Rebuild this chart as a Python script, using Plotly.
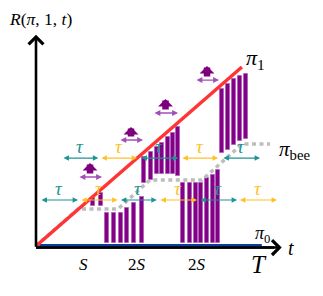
import plotly.graph_objects as go

# ---------------- data (t and R in units of one period tau) ----------------
pi1_t = [0.0, 5.28]
pi1_r = [0.0, 4.59]
pi0_t = [0.0, 5.79]
pi0_r = [0.0, 0.0]

bee_t = [0.0, 1.077, 2.103, 2.92, 4.256, 5.282, 6.0]
bee_r = [0.0, 0.949, 0.949, 1.692, 1.692, 2.615, 2.615]

bar_t = [1.462, 1.667,
         1.821, 2.0, 2.179, 2.333, 2.513, 2.718,
         2.769, 2.949, 3.103, 3.231, 3.385, 3.513, 3.641,
         3.769, 3.949, 4.103, 4.231, 4.385, 4.538, 4.667,
         4.769, 4.923, 5.077, 5.231, 5.385]
bar_top = [1.231, 1.359,
           0.846, 0.846, 0.846, 0.974, 1.103, 1.256,
           2.282, 2.410, 2.538, 2.641, 2.795, 2.897, 3.051,
           1.615, 1.615, 1.615, 1.615, 1.744, 1.821, 1.949,
           4.026, 4.154, 4.282, 4.359, 4.410]
bar_bottom = [1.026, 1.026,
              0.077, 0.077, 0.077, 0.077, 0.077, 0.077,
              1.615, 1.692, 1.846, 1.846, 1.846, 1.846, 1.795,
              0.077, 0.077, 0.077, 0.077, 0.077, 0.077, 0.077,
              2.385, 2.462, 2.590, 2.692, 2.744]

row1_r = 1.18
row1_start = [0.103, 1.128, 2.141, 3.154, 4.179, 5.192]
row1_end = [1.077, 2.090, 3.095, 4.128, 5.154, 6.179]
row1_kind = ["a", "b", "a", "b", "a", "b"]

row2_r = 2.256
row2_start = [0.667, 1.641, 2.667, 3.718, 4.769]
row2_end = [1.597, 2.590, 3.649, 4.667, 5.744]
row2_kind = ["a", "b", "a", "b", "a"]

boost_start = [1.077, 2.128, 3.0, 4.077]
boost_end = [1.692, 2.744, 3.641, 4.692]
boost_r = [1.769, 2.718, 3.41, 4.256]
up_tail = [1.82, 2.77, 3.46, 4.31]
up_tip = [2.128, 3.051, 3.769, 4.615]

tick_t = [1.23, 2.59, 4.12, 5.72]
tick_text = ["<i>S</i>", "2<i>S</i>", "2<i>S</i>", "<i>T</i>"]

# ---------------- styles ----------------
TEAL = "#1f9393"
GOLD = "#ffc128"
PURPLE = "#840084"
LPURPLE = "#a24fb8"
RED = "#ff3535"
BLUE = "#0b3d99"
GRAY = "#bdbdbd"
SERIF = "Liberation Serif, DejaVu Serif, serif"
kind_color = {"a": TEAL, "b": GOLD}

fig = go.Figure()

# black x axis line (under blue)
fig.add_trace(go.Scatter(x=[0, 6.1], y=[-0.04, -0.04], mode="lines",
                         line=dict(color="black", width=2.5), hoverinfo="skip"))
# pi_0
fig.add_trace(go.Scatter(x=pi0_t, y=pi0_r, mode="lines",
                         line=dict(color=BLUE, width=4), hoverinfo="skip"))
# bars
fig.add_trace(go.Bar(x=bar_t, y=[t - b for t, b in zip(bar_top, bar_bottom)],
                     base=bar_bottom, width=0.11,
                     marker=dict(color=PURPLE, line=dict(color="rgba(170,90,190,0.7)", width=1)),
                     hoverinfo="skip"))
# pi_bee
fig.add_trace(go.Scatter(x=bee_t, y=bee_r, mode="lines",
                         line=dict(color=GRAY, width=3.5, dash="4px,3.5px"), hoverinfo="skip"))
# pi_1
fig.add_trace(go.Scatter(x=pi1_t, y=pi1_r, mode="lines",
                         line=dict(color=RED, width=3.5), hoverinfo="skip"))

ann = []
# axes arrows
ann.append(dict(x=0, y=5.42, ax=0, ay=-0.06, xref="x", yref="y", axref="x", ayref="y",
                text="", showarrow=True, arrowhead=4, arrowwidth=2.6, arrowsize=1.1,
                arrowcolor="black"))
ann.append(dict(x=6.3, y=-0.04, ax=-0.04, ay=-0.04, xref="x", yref="y", axref="x", ayref="y",
                text="", showarrow=True, arrowhead=4, arrowwidth=2.6, arrowsize=1.1,
                arrowcolor="black"))


def tau_row(starts, ends, kinds, r):
    for s, e, k in zip(starts, ends, kinds):
        c = kind_color[k]
        ann.append(dict(x=e, y=r, ax=s, ay=r, xref="x", yref="y", axref="x", ayref="y",
                        text="", showarrow=True, arrowhead=2, arrowside="end+start",
                        arrowwidth=1.2, arrowsize=0.9, arrowcolor=c))
        ann.append(dict(x=(s + e) / 2, y=r + 0.3, xref="x", yref="y", text="<i>τ</i>",
                        showarrow=False, font=dict(family=SERIF, size=19, color=c)))


tau_row(row1_start, row1_end, row1_kind, row1_r)
tau_row(row2_start, row2_end, row2_kind, row2_r)

for s, e, r, a, b in zip(boost_start, boost_end, boost_r, up_tail, up_tip):
    ann.append(dict(x=e, y=r, ax=s, ay=r, xref="x", yref="y", axref="x", ayref="y",
                    text="", showarrow=True, arrowhead=2, arrowside="end+start",
                    arrowwidth=1.3, arrowsize=0.9, arrowcolor=LPURPLE))
    m = (s + e) / 2
    ann.append(dict(x=m, y=b, ax=m, ay=a, xref="x", yref="y", axref="x", ayref="y",
                    text="", showarrow=True, arrowhead=1, arrowwidth=6.5, arrowsize=0.38,
                    arrowcolor="#7d007d"))

# labels
ann.append(dict(x=0.11, y=5.82, xref="x", yref="y", text="<i>R</i>(<i>π</i>, 1, <i>t</i>)",
                showarrow=False, font=dict(family=SERIF, size=17.5, color="black")))
ann.append(dict(x=5.64, y=4.8, xref="x", yref="y", text="<i>π</i><sub>1</sub>",
                showarrow=False, font=dict(family=SERIF, size=22, color="black")))
ann.append(dict(x=6.63, y=2.45, xref="x", yref="y", text="<i>π</i><sub>bee</sub>",
                showarrow=False, font=dict(family=SERIF, size=21, color="black")))
ann.append(dict(x=5.8, y=0.3, xref="x", yref="y", text="<i>π</i><sub>0</sub>",
                showarrow=False, font=dict(family=SERIF, size=18, color="black")))
ann.append(dict(x=6.54, y=-0.05, xref="x", yref="y", text="<i>t</i>",
                showarrow=False, font=dict(family=SERIF, size=20, color="black")))
for t, txt in zip(tick_t, tick_text):
    big = txt == "<i>T</i>"
    ann.append(dict(x=t, y=-0.47, xref="x", yref="y", text=txt, showarrow=False,
                    font=dict(family=SERIF, size=25 if big else 17, color="black")))

# ranges chosen so that the page's 8px body margin is compensated
fig.update_layout(
    width=323, height=296, margin=dict(l=0, r=0, t=0, b=0),
    paper_bgcolor="white", plot_bgcolor="white", showlegend=False,
    annotations=ann, bargap=0,
    xaxis=dict(range=[-0.718, 7.564], visible=False, fixedrange=True),
    yaxis=dict(range=[-1.487, 6.103], visible=False, fixedrange=True),
)

fig.write_html("out.html")
